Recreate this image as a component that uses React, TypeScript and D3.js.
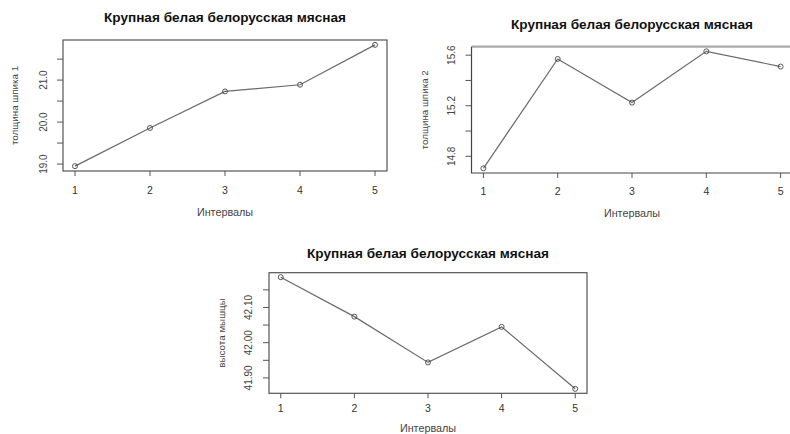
import * as d3 from 'd3';
import React from 'react';

const intervals = [1, 2, 3, 4, 5];
const title = 'Крупная белая белорусская мясная';
const xLabel = 'Интервалы';

const fat1 = [18.95, 19.86, 20.73, 20.89, 21.84];
const fat1Ticks = [19.0, 19.5, 20.0, 20.5, 21.0, 21.5];
const fat1Labels = ['19.0', '20.0', '21.0'];

const fat2 = [14.705, 15.57, 15.225, 15.63, 15.51];
const fat2Ticks = [14.8, 15.0, 15.2, 15.4, 15.6];
const fat2Labels = ['14.8', '15.2', '15.6'];

const muscle = [42.186, 42.074, 41.944, 42.045, 41.869];
const muscleTicks = [41.9, 41.95, 42.0, 42.05, 42.1, 42.15];
const muscleLabels = ['41.90', '42.00', '42.10'];

const FONT = '"Liberation Sans", Arial, sans-serif';

interface Box {
  left: number;
  right: number;
  top: number;
  bottom: number;
}

interface PanelProps {
  values: number[];
  ticks: number[];
  labels: string[];
  yLabel: string;
  box: Box;
  yLabelX: number;
  tickLabelX: number;
  titleY: number;
  xTickY: number;
  xLabelY: number;
  thickTop?: boolean;
}

// R style range padding: 4% on each side
const pad = (ext: [number, number]) => {
  const d = (ext[1] - ext[0]) * 0.04;
  return [ext[0] - d, ext[1] + d];
};

const Panel = ({
  values,
  ticks,
  labels,
  yLabel,
  box,
  yLabelX,
  tickLabelX,
  titleY,
  xTickY,
  xLabelY,
  thickTop,
}: PanelProps) => {
  const x = d3
    .scaleLinear()
    .domain(pad(d3.extent(intervals) as [number, number]))
    .range([box.left, box.right]);
  const y = d3
    .scaleLinear()
    .domain(pad(d3.extent(values) as [number, number]))
    .range([box.bottom, box.top]);
  const line = d3
    .line<number>()
    .x((_, i) => x(intervals[i]))
    .y(d => y(d));
  const cx = (box.left + box.right) / 2;
  const cy = (box.top + box.bottom) / 2;

  return (
    <g>
      <text
        x={cx}
        y={titleY}
        textAnchor="middle"
        fontSize={13.6}
        fontWeight="bold"
        fill="#111"
      >
        {title}
      </text>
      {thickTop ? (
        <g>
          <line x1={box.left} x2={box.right} y1={box.top} y2={box.top} stroke="#aaa" strokeWidth={2.2} />
          <path
            d={`M${box.left},${box.top}V${box.bottom}H${box.right}`}
            fill="none"
            stroke="#444"
            strokeWidth={1.2}
          />
        </g>
      ) : (
        <rect
          x={box.left}
          y={box.top}
          width={box.right - box.left}
          height={box.bottom - box.top}
          fill="none"
          stroke="#555"
          strokeWidth={1.2}
        />
      )}
      {intervals.map(v => (
        <g key={v}>
          <line x1={x(v)} x2={x(v)} y1={box.bottom} y2={box.bottom + 5} stroke="#555" />
          <text x={x(v)} y={xTickY} textAnchor="middle" fontSize={10.5} fill="#333">
            {v}
          </text>
        </g>
      ))}
      {ticks.map(t => (
        <line key={t} x1={box.left - 6} x2={box.left} y1={y(t)} y2={y(t)} stroke="#555" />
      ))}
      {labels.map(l => (
        <text
          key={l}
          transform={`translate(${tickLabelX},${y(+l)}) rotate(-90)`}
          dy="0.35em"
          textAnchor="middle"
          fontSize={10}
          fill="#444"
        >
          {l}
        </text>
      ))}
      <text
        transform={`translate(${yLabelX},${cy}) rotate(-90)`}
        dy="0.35em"
        textAnchor="middle"
        fontSize={9.8}
        fill="#444"
      >
        {yLabel}
      </text>
      <text x={cx} y={xLabelY} textAnchor="middle" fontSize={10.8} fill="#444">
        {xLabel}
      </text>
      <path d={line(values) ?? ''} fill="none" stroke="#6a6a6a" strokeWidth={1.2} />
      {values.map((v, i) => (
        <circle
          key={i}
          cx={x(intervals[i])}
          cy={y(v)}
          r={2.5}
          fill="none"
          stroke="#444"
          strokeWidth={0.9}
        />
      ))}
    </g>
  );
};

const App = () => (
  <svg
    width={790}
    height={434}
    style={{ position: 'absolute', left: 0, top: 0, background: '#fff', fontFamily: FONT }}
  >
    <Panel
      values={fat1}
      ticks={fat1Ticks}
      labels={fat1Labels}
      yLabel="толщина шпика 1"
      box={{ left: 63, right: 387, top: 40, bottom: 171 }}
      yLabelX={15}
      tickLabelX={43}
      titleY={22}
      xTickY={194}
      xLabelY={216}
      thickTop={false}
    />
    <Panel
      values={fat2}
      ticks={fat2Ticks}
      labels={fat2Labels}
      yLabel="толщина шпика 2"
      box={{ left: 471.5, right: 792.5, top: 46.7, bottom: 173 }}
      yLabelX={425}
      tickLabelX={451.7}
      titleY={28.5}
      xTickY={195}
      xLabelY={217}
      thickTop
    />
    <Panel
      values={muscle}
      ticks={muscleTicks}
      labels={muscleLabels}
      yLabel="высота мышцы"
      box={{ left: 269, right: 587, top: 272.7, bottom: 393.3 }}
      yLabelX={222}
      tickLabelX={248}
      titleY={257.5}
      xTickY={412}
      xLabelY={432}
    />
  </svg>
);

export default App;
